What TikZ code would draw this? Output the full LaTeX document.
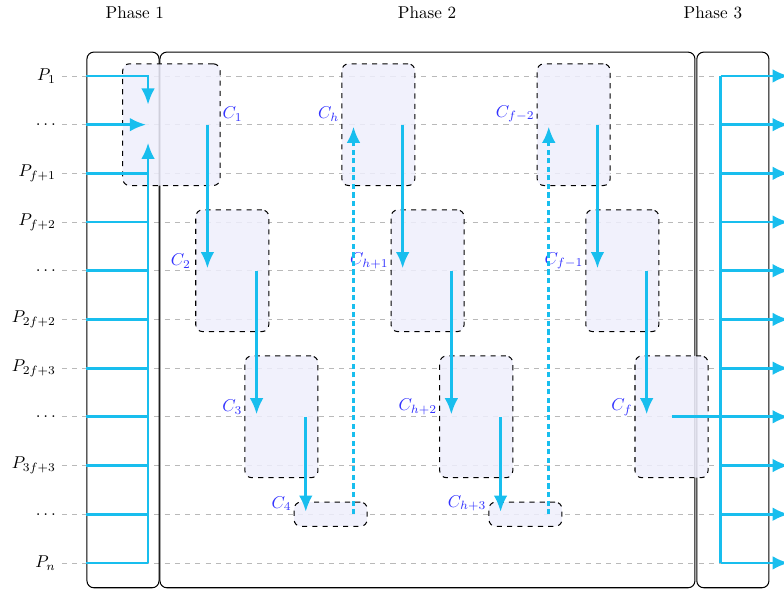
\documentclass[tikz,border=0pt]{standalone}
\usepackage{tikz}
\usetikzlibrary{positioning, calc, arrows.meta}

\definecolor{flowcyan}{RGB}{24,190,238}
\definecolor{chunkfill}{RGB}{238,238,252}

\begin{document}
\begin{tikzpicture}[
        every node/.style={align=center},
        gridline/.style={dashed, gray!55, thin},
        phasebox/.style={draw, rounded corners=4pt, semithick, minimum width=1.48cm, minimum height=11cm},
        chunk/.style={draw, dashed, semithick, rounded corners=4pt, fill=chunkfill, fill opacity=0.85, minimum width=1.5cm, minimum height=2.5cm},
        clabel/.style={text=blue!80, inner sep=1pt},
        flow/.style={flowcyan, line width=1.6pt},
        flowarrow/.style={flow, -{Latex[length=9.5pt,width=8pt]}},
        backflow/.style={flowarrow, dash pattern=on 3pt off 2pt}
    ]
        \useasboundingbox (0,-10.595) rectangle (16.1,1.56);

        % rows
        \foreach \i in {0,...,10} {
            \coordinate (r\i) at (0,-\i);
            \draw[gridline] (1.27,-\i) -- (16.1,-\i);
        }
        \coordinate (m) at (3.04,-1);
        \coordinate (s) at (14.8,0);
        \coordinate (edge) at (16.2,0);

        \node[anchor=east] (p1) at (1.27,0) {$P_1$};
        \node[anchor=east] (p2) at (1.27,-1) {$\ldots$};
        \node[anchor=east] (p3) at (1.27,-2) {$P_{f+1}$};
        \node[anchor=east] (p4) at (1.27,-3) {$P_{f+2}$};
        \node[anchor=east] (p5) at (1.27,-4) {$\ldots$};
        \node[anchor=east] (p6) at (1.27,-5) {$P_{2f+2}$};
        \node[anchor=east] (p7) at (1.27,-6) {$P_{2f+3}$};
        \node[anchor=east] (p8) at (1.27,-7) {$\ldots$};
        \node[anchor=east] (p9) at (1.27,-8) {$P_{3f+3}$};
        \node[anchor=east] (p10) at (1.27,-9) {$\ldots$};
        \node[anchor=east] (p11) at (1.27,-10) {$P_n$};

        % phases
        \node[phasebox] (ph1) at (2.526,-5.01) {};
        \node[phasebox, minimum width=10.986cm] (ph2) at (8.778,-5.01) {};
        \node[phasebox] (ph3) at (15.05,-5.01) {};
        \node (t1) at (2.77,1.29) {Phase 1};
        \node (t2) at (8.77,1.29) {Phase 2};
        \node (t3) at (14.64,1.29) {Phase 3};

        % chunks
        \node[chunk, minimum width=2cm] (c1) at (3.52,-1) {};
        \node[chunk] (c2) at (4.77,-4) {};
        \node[chunk] (c3) at (5.78,-7) {};
        \node[chunk, minimum height=0.5cm] (c4) at (6.79,-9) {};
        \node[chunk] (ch) at (7.77,-1) {};
        \node[chunk] (ch1) at (8.78,-4) {};
        \node[chunk] (ch2) at (9.78,-7) {};
        \node[chunk, minimum height=0.5cm] (ch3) at (10.79,-9) {};
        \node[chunk] (cf2) at (11.78,-1) {};
        \node[chunk] (cf1) at (12.78,-4) {};
        \node[chunk] (cf) at (13.79,-7) {};

        \node[clabel, anchor=west] (lc1) at ([yshift=0.22cm]c1.east) {$C_1$};
        \node[clabel, anchor=east] (lc2) at ([xshift=-0.05cm,yshift=0.2cm]c2.west) {$C_2$};
        \node[clabel, anchor=east] (lc3) at ([yshift=0.2cm]c3.west) {$C_3$};
        \node[clabel, anchor=east] (lc4) at ([yshift=0.22cm]c4.west) {$C_4$};
        \node[clabel, anchor=east] (lch) at ([yshift=0.22cm]ch.west) {$C_h$};
        \node[clabel, anchor=east] (lch1) at ([yshift=0.2cm]ch1.west) {$C_{h+1}$};
        \node[clabel, anchor=east] (lch2) at ([yshift=0.2cm]ch2.west) {$C_{h+2}$};
        \node[clabel, anchor=east] (lch3) at ([yshift=0.22cm]ch3.west) {$C_{h+3}$};
        \node[clabel, anchor=east] (lcf2) at ([yshift=0.22cm]cf2.west) {$C_{f-2}$};
        \node[clabel, anchor=east] (lcf1) at ([yshift=0.2cm]cf1.west) {$C_{f-1}$};
        \node[clabel, anchor=east] (lcf) at ([yshift=0.2cm]cf.west) {$C_f$};

        % phase 1 -- gather
        \draw[flowarrow, shorten >=0.41cm] (ph1.west |- r0) -- (m |- r0) -- (m);
        \draw[flowarrow, shorten >=0.04cm] (ph1.west |- r1) -- (m);
        \foreach \i in {2,...,10}
            \draw[flow] (ph1.west |- r\i) -- (m |- r\i);
        \draw[flowarrow, shorten >=0.37cm] (m |- r10) -- (m);

        % phase 2 -- chunks
        \draw[flowarrow] ([xshift=0.25cm]c2.west |- c1) -- ([xshift=0.25cm,yshift=0.05cm]c2.west);
        \draw[flowarrow] ([xshift=0.25cm]c3.west |- c2) -- ([xshift=0.25cm,yshift=0.05cm]c3.west);
        \draw[flowarrow] ([xshift=0.25cm]c4.west |- c3) -- ([xshift=0.25cm,yshift=0.05cm]c4.west);
        \draw[backflow] ([xshift=0.25cm]ch.west |- c4) -- ([xshift=0.25cm,yshift=-0.04cm]ch.west);
        \draw[flowarrow] ([xshift=0.25cm]ch1.west |- ch) -- ([xshift=0.25cm,yshift=0.05cm]ch1.west);
        \draw[flowarrow] ([xshift=0.25cm]ch2.west |- ch1) -- ([xshift=0.25cm,yshift=0.05cm]ch2.west);
        \draw[flowarrow] ([xshift=0.25cm]ch3.west |- ch2) -- ([xshift=0.25cm,yshift=0.05cm]ch3.west);
        \draw[backflow] ([xshift=0.25cm]cf2.west |- ch3) -- ([xshift=0.25cm,yshift=-0.04cm]cf2.west);
        \draw[flowarrow] ([xshift=0.25cm]cf1.west |- cf2) -- ([xshift=0.25cm,yshift=0.05cm]cf1.west);
        \draw[flowarrow] ([xshift=0.25cm]cf.west |- cf1) -- ([xshift=0.25cm,yshift=0.05cm]cf.west);

        % phase 3 -- scatter
        \draw[flow] (s |- r0) -- (s |- r10);
        \foreach \i in {0,...,6,8,9,10}
            \draw[flowarrow] (s |- r\i) -- (edge |- r\i);
        \draw[flowarrow] (cf.center) -- (edge |- cf);
    \end{tikzpicture}
\end{document}
